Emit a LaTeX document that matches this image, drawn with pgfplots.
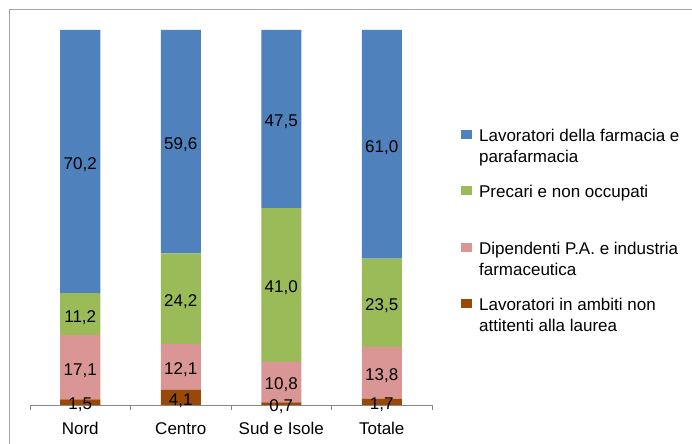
\documentclass[border=0pt]{standalone}
\usepackage{fontspec}
\setmainfont{Liberation Sans}
\usepackage{pgfplots}
\usepackage{pgfplotstable}
\pgfplotsset{compat=1.18}
\definecolor{cblue}{HTML}{4F81BD}
\definecolor{cgreen}{HTML}{9BBB59}
\definecolor{cpink}{HTML}{D99694}
\definecolor{cbrown}{HTML}{984807}
\definecolor{framegray}{HTML}{A6A6A6}
\definecolor{axgray}{HTML}{868686}
\pgfplotstableread{
x a b c d
0 1.5 17.1 11.2 70.2
1 4.1 12.1 24.2 59.6
2 0.7 10.8 41.0 47.5
3 1.7 13.8 23.5 61.0
}\datatab
\pgfplotstableread{
x y lab
0 0.75 1,5
0 10.05 17,1
0 24.2 11,2
0 64.9 70,2
1 2.05 4,1
1 10.15 12,1
1 28.3 24,2
1 70.2 59,6
2 0.35 0,7
2 6.1 10,8
2 32.0 41,0
2 76.25 47,5
3 0.85 1,7
3 8.6 13,8
3 27.25 23,5
3 69.5 61,0
}\labtab
\newcommand\fs{\fontsize{17bp}{21bp}\selectfont}
\begin{document}
\begin{tikzpicture}
\useasboundingbox (0,0) rectangle (692bp,444bp);
\draw[framegray, line width=1bp] (9bp,-2bp) -- (9bp,434bp) -- (694bp,434bp);
\begin{axis}[
  at={(30bp,39bp)}, anchor=south west,
  scale only axis, width=402bp, height=375bp,
  ybar stacked, bar width=40bp,
  xmin=-0.5, xmax=3.5, ymin=0, ymax=100,
  axis y line=none, axis x line*=bottom,
  axis line style={axgray, line width=1bp},
  xtick={0,1,2,3}, xticklabels={Nord,Centro,Sud e Isole,Totale},
  major tick length=0pt,
  minor xtick={-0.5,0.5,1.5,2.5,3.5},
  minor tick length=5bp, tick align=outside,
  minor tick style={axgray, line width=1bp},
  ticklabel style={font=\fs},
  xticklabel style={yshift=-14bp},
  legend image code/.code={\fill[#1] (0bp,23.5bp) rectangle (11bp,32.5bp);},
  reverse legend,
  legend style={at={(1.072,0.747)}, anchor=north west, draw=none, fill=none,
    font=\fs, inner sep=0pt, row sep=15bp, column sep=5bp,
    cells={anchor=base west, align=left, inner sep=0pt}},
]
\addplot[fill=cbrown, draw=none] table[x=x,y=a]{\datatab};
\addlegendentry{\strut Lavoratori in ambiti non\\attitenti alla laurea\strut}
\addplot[fill=cpink, draw=none] table[x=x,y=b]{\datatab};
\addlegendentry{\strut Dipendenti P.A. e industria\\farmaceutica\strut}
\addplot[fill=cgreen, draw=none] table[x=x,y=c]{\datatab};
\addlegendentry{\strut Precari e non occupati\\\strut}
\addplot[fill=cblue, draw=none] table[x=x,y=d]{\datatab};
\addlegendentry{\strut Lavoratori della farmacia e\\parafarmacia\strut}
\end{axis}
\begin{axis}[
  at={(30bp,39bp)}, anchor=south west,
  scale only axis, width=402bp, height=375bp,
  xmin=-0.5, xmax=3.5, ymin=0, ymax=100, hide axis,
]
\addplot[draw=none, nodes near coords, point meta=explicit symbolic,
  every node near coord/.append style={anchor=center, font=\fs, text=black, yshift=-3bp}]
  table[x=x,y=y,meta=lab]{\labtab};
\end{axis}
\end{tikzpicture}
\end{document}
